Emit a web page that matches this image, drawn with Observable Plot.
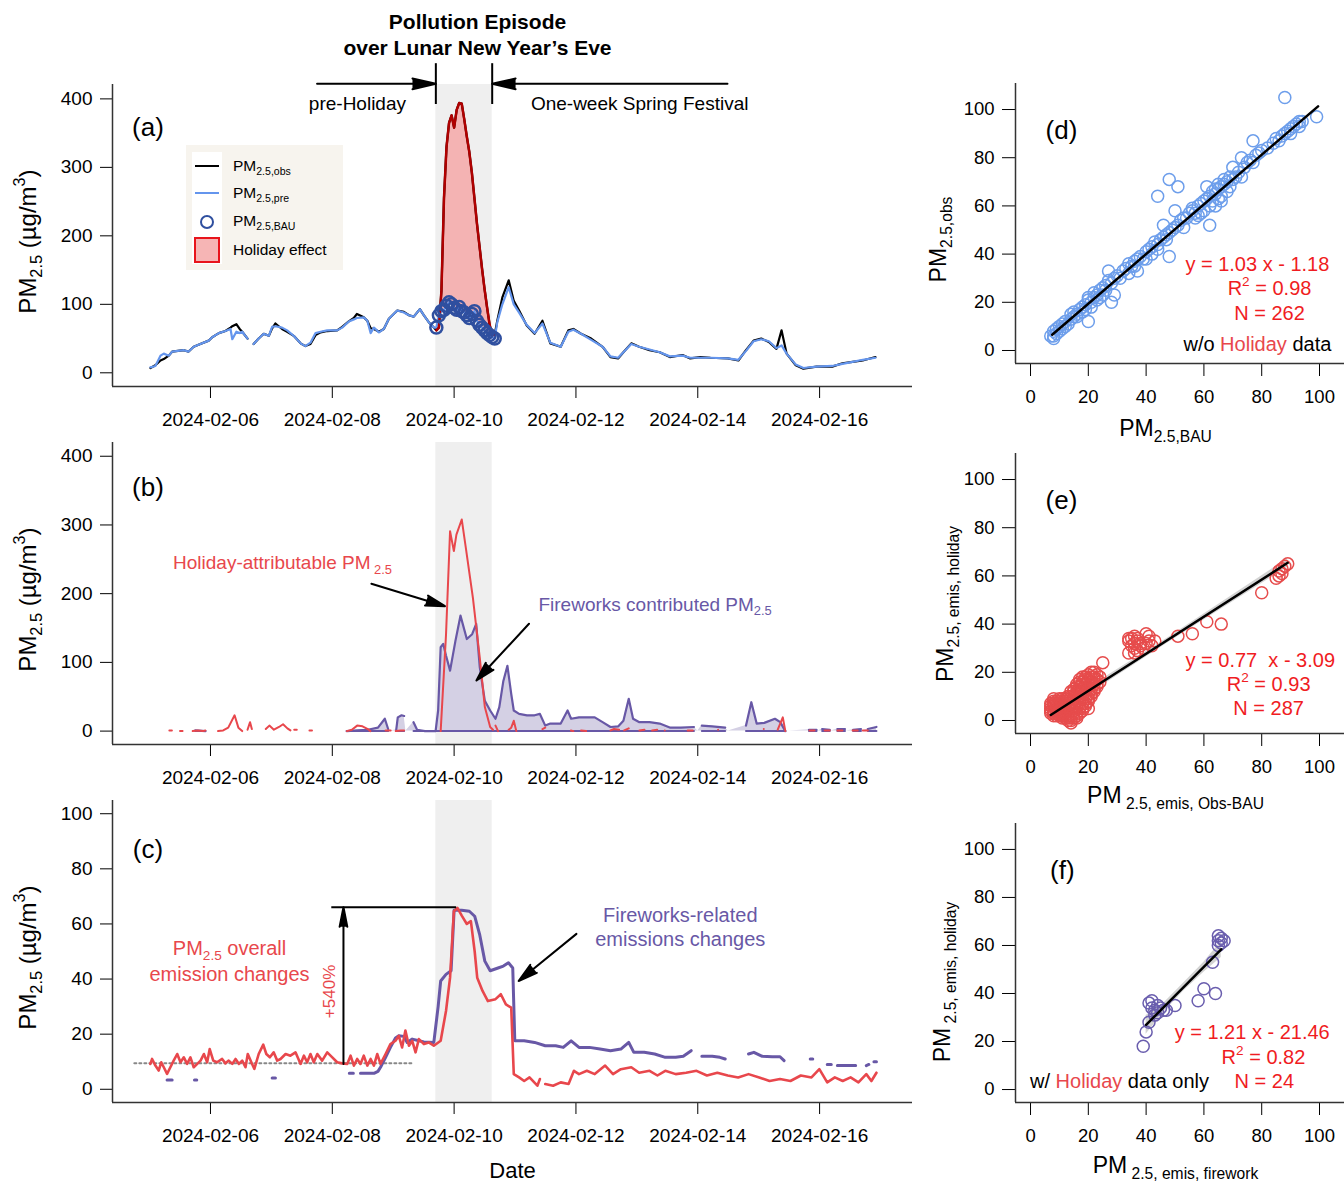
<!DOCTYPE html>
<html><head><meta charset="utf-8">
<script src="https://cdn.jsdelivr.net/npm/d3@7"></script>
<script src="https://cdn.jsdelivr.net/npm/@observablehq/plot@0.6"></script>
<style>
body{margin:0;background:#fff;}
#root{position:relative;width:1344px;height:1182px;overflow:hidden;font-family:"Liberation Sans",Arial,sans-serif;background:#fff;}
.lg sub{font-size:68%;vertical-align:-0.35em;line-height:0;}
</style></head><body><div id="root"></div>
<script>
// ================= DATA =================
// time axis: hours after 2024-02-05 00:00 (UTC)
const xTickDates = ["2024-02-06","2024-02-08","2024-02-10","2024-02-12","2024-02-14","2024-02-16"];
const holidaySpan = [112.8, 135.0];

// panel (a): observed / predicted PM2.5 outside the holiday window
const aHours = [0.35,2.3,4.3,5.6,7.6,8.9,13.5,15.4,17.4,20, 23.3,24.7,27.3,29.9,31.9,32.6,34.2,35.5,36.5,38.6, 39.6,41,43,45,47,48.3,49.6,52.2,54.2,56.8,
  59.5,61.4,63.4,65.4,67.4,70,73.9,75.9,78.5,80.5, 81.7,84.4,85.8,87.1,88.4,90.4,92.3,94.3,97.6,100.2, 102.2,104.1,106.5,108.1,110,112,
  137,139,141.5,143.5,145.6,148.6,151.7,154.8,157.9,162, 165,167,170,174,178.5,181.6,184.6,186.7,189.8,192.9, 197,201,205,210,213,217,221,227.8,232,235, 238,241,244,247,249,251,254.6,257.6,262.8,269, 273,277,281,286];
const aObs = [7,11,18,20,25,31,33,31,38,42, 47,52,58,61,66,68,71,64,60,50, null,42,50,57,54,65,72,64,60,54,
  43,39,42,55,59,61,62,67,75,80, 86,81,76,65,64,60,64,79,91,89, 84,82,93,84,74,66,
  76,110,135,105,91,69,57,76,43,38, 62,64,57,50,38,23,21,30,43,38, 33,30,23,26,21,23,22,21,18,33, 47,50,45,35,62,28,11,6,9,9, 14,16,18,23];
const aPre = [8,10,25,28,25,31,33,31,38,42, 47,52,58,61,64,49,60,58,60,50, null,42,50,57,54,67,68,66,62,54,
  43,39,44,58,60,62,62,66,75,78, 80,81,76,58,66,59,64,79,91,88, 84,82,93,84,74,66,
  74,100,125,100,88,70,58,72,44,38, 60,63,57,48,38,24,22,30,42,38, 34,30,24,25,22,22,22,21,19,32, 46,49,46,36,40,28,12,7,9,10, 13,16,19,22];
// holiday window (hourly)
const holHours = [113,114,115,116,117,118,119,120,121,122,123,124,125,126,127,128,129,130,131,132,133,134,135,136];
const holObs = [62,66,120,255,330,365,376,358,384,394,393,370,345,322,292,255,218,185,152,122,95,70,55,56];
const holBAU = [66,84,90,92,98,103,100,95,92,96,90,88,84,80,86,90,76,70,66,62,58,55,52,50];

// panel (b): [hour, value] (null = missing)
const bHoliday = [[7.8,1],[8.8,1],[9.3,null],[12,0],[13,0],[13.5,null],[17,0],[19,1],[21,0],[22,1],[22.5,null],[27,0],[29,1],[31,5],[33.5,23],[35,5],[36.5,0],[37.5,null],[38.6,2],[39.6,13],[40.3,3],[41,null],[45.8,3],[47.2,8],[49,2],[51,6],[52.6,10],[54.3,4],[55.5,1],[56,null],[57,2],[58,2],[58.5,null],[63,1],[64,1],[64.5,null],[77.7,0],[79.7,2],[81.8,8],[83.9,7],[86,3],[87,0],[87.5,null],[93,1],[95,1],[95.5,null],[97,0],[99,1],[100.3,1],[101,null],[114.7,0],[116.8,140],[118.4,291],[119.9,262],[120.9,286],[123,308],[124.6,267],[127.4,194],[130.1,107],[132.1,35],[134.2,6],[135.3,2],[135.8,null],[136.3,8],[137.3,0],[137.8,null],[141.5,2],[142.5,5],[143.5,15],[144.5,0],[145,null],[154.8,3],[155.9,5],[156.5,null],[166,1],[167,0],[167.5,null],[170,1],[172,0],[172.5,null],[181.6,1],[183,3],[185,2],[186,null],[187,1],[188.8,4],[189.5,null],[193,1],[195,2],[196,null],[198,1],[200,2],[201,null],[203,1],[204,null],[212,1],[214,1],[215,null],[224,2],[225,null],[242,3],[243,null],[247.5,2],[249.5,20],[250.5,0],[251,null],[260,1],[262,1],[262.5,null],[266,1],[268,1],[268.5,null],[271,1],[273,1],[273.5,null],[277,1],[279,1],[279.5,null],[281,1],[283,1],[283.5,null]];
const bFireworks = [[18,1],[22,0],[22.5,null],[77.7,0],[81.8,1],[86,2],[90,5],[92.7,18],[94,3],[95,null],[97.2,2],[97.8,20],[99.3,23],[100.3,22],[101,null],[104,13],[105.4,2],[108.5,0],[112.7,0],[113.7,30],[114.7,122],[115.7,127],[116.8,110],[118.4,88],[120.5,131],[122.5,168],[125,134],[127.1,141],[128.7,156],[130.1,93],[132.1,44],[134.2,30],[136.3,18],[137.8,35],[139.4,73],[141,95],[142.5,54],[143.5,30],[145.6,25],[148.7,23],[151.7,23],[153.8,25],[155.9,8],[157.9,11],[162,11],[164.7,30],[166.1,18],[169.2,20],[172.3,20],[175.4,20],[178.5,13],[181.6,6],[184.7,7],[186.7,15],[188.8,47],[190.5,18],[193,13],[197,13],[201,11],[205.2,5],[209.3,5],[214.5,6],[216,null],[217.6,8],[221.7,7],[226.8,5],[228,null],[235,8],[237.1,42],[239.2,11],[242.2,12],[246.4,18],[248.5,13],[250.5,0],[252,null],[259.8,2],[262.8,2],[263.5,null],[265,3],[268,2],[268.5,null],[271,3],[274,3],[274.5,null],[277.2,2],[280.3,3],[281,null],[283,3],[286.4,6]];

// panel (c): [hour, value]
const cOverall = [[0.3,9.2],[1,11],[2.3,8.6],[3.6,6.8],[4.6,9.8],[5.6,8],[6.9,5.6],[8.2,8],[9.5,10.4],[10.9,12.8],[12.2,9.8],[13.5,11.6],[14.8,9.2],[16.1,11.6],[17.4,8],[18.8,9.2],[20.1,10.4],[21.4,12.8],[22.7,9.8],[23.7,14.6],[25.1,10.4],[26.6,9.8],[28.6,11],[29.9,9.4],[31.2,10.4],[32.6,9.2],[33.9,11],[35.2,9.2],[36.5,10.4],[37.8,8],[38.7,12.8],[40.4,9.2],[41.3,7.4],[43,12.8],[44.8,16.2],[46,12.8],[47.4,11.6],[48.9,13.4],[50.3,10.4],[51.6,11],[53.6,12.8],[55.5,12.2],[57.5,13.4],[59.5,9.2],[60.8,12.2],[62.1,9.8],[63.4,12.8],[64.7,9.8],[66.1,12.8],[68,10.4],[70,13.4],[72,11.6],[73.9,9.8],[75.9,9.4],[77.9,9.2],[79.2,12.2],[80.5,8.6],[81.8,11],[83.1,9.2],[84.4,12.2],[85.8,8.6],[87.1,11],[88.4,8.6],[89.7,12.8],[91,9.2],[93,12.8],[94.9,16.4],[96.9,17.6],[98.2,19.4],[99.5,15.2],[100.8,21.3],[102.2,15.8],[103.5,17.6],[104.8,13.4],[106.1,18.2],[108.1,16.4],[110,17],[112,15.8],
  [114.7,17.6],[116.8,28.4],[118.4,40.5],[119.9,64.6],[121.3,65.8],[123,63],[125,60],[126.6,61],[128.1,50],[129.1,40.5],[131.2,35.7],[133.3,32],[136.3,32.7],[138.4,34.5],[140.4,30.8],[142.5,29.6],[143.5,5.5],[145.6,4.3],[147.6,3],[149.7,4.3],[152.8,1.3],[153.8,3.7],[154.8,null],[155.9,1.9],[159,1.3],[162,2.5],[165.1,1.9],[167.2,6.7],[169.2,5.5],[172.3,6.7],[175.4,5.5],[179.5,8.6],[182.6,5.5],[185.7,7.3],[189.8,8],[192.9,6],[197,6.7],[200.1,5],[203.2,6.7],[207.3,5.5],[211.4,6],[215.5,6.7],[219.6,5],[223.7,6],[227.8,5],[231.9,4.3],[236,5.5],[240.2,4.3],[244.3,3],[248.4,3.7],[252.5,3],[256.6,5],[260.8,4.3],[263.9,7.3],[267,2.5],[270,4.3],[273.1,3],[276.2,4.3],[279.3,2.5],[282.4,5.5],[284.4,3],[286.4,6]];
const cFireworks = [[6.9,3.4],[8.9,3.4],[9.5,null],[17.7,3.4],[18.6,3.4],[19.2,null],[48.3,4.1],[49.6,4.1],[50.5,null],[78.7,5.8],[80.3,5.8],[81,null],[83.1,5.8],[88.4,5.8],[90,6.5],[91,8],[93,11.6],[94.9,15.2],[96.9,18.6],[98.2,19.4],[100.2,19.2],[101.5,17],[103.5,18.2],[106.1,17.6],[108.1,17.2],[112,17],[113.7,30],[114.7,39.3],[116.8,41.7],[118.8,43],[120,65],[123,65],[126,64.6],[128.1,62.8],[130.1,56],[132.1,46.5],[134.2,43],[137.3,44],[139.4,44.7],[141.4,45.9],[143.1,44],[143.9,17.6],[147.6,17.6],[151.7,17],[155.9,15.8],[160,15.8],[163,15.2],[166.1,17.6],[169.2,15.2],[173.3,15.2],[177.5,14.6],[181.6,14],[185.7,14.6],[188.8,17],[190.8,13.4],[194.9,13.4],[199,12.8],[203.2,11.6],[207.3,11.6],[210.3,12],[213.4,14],[215,null],[217.6,12],[221.7,12],[224.7,11.6],[226.8,11],[228,null],[236,12.8],[238.1,13.4],[241.2,12],[245.3,11.8],[248.4,11.8],[250,10.4],[251,null],[260.3,11],[261.3,11],[262,null],[267,9],[268.6,9],[269.5,null],[271,8.6],[278.2,8.6],[279,null],[282.4,8.6],[283.4,9],[284,null],[285.4,10],[286.4,10]];
const cBaseline = [[-6,9.4],[104,9.4]];

// scatter panels: [x, y]
const dPoints = [[8,6],[8,8],[9,7],[9,9],[10,8],[10,10],[11,9],[11,11],[12,12],[13,11],[14,13],[15,14],[15,16],[16,15],[17,17],[18,18],[19,19],[19,17],[20,21],[20,22],[20,12],[21,20],[22,22],[22,24],[23,23],[24,25],[24,22],[25,26],[26,27],[26,25],[27,33],[27,29],[28,28],[28,20],[29,23],[29,30],[30,31],[31,30],[32,33],[33,34],[34,32],[34,36],[35,35],[36,37],[37,38],[37,33],[38,39],[39,38],[40,41],[41,42],[42,43],[42,40],[43,45],[44,44],[44,64],[45,46],[46,47],[46,52],[47,48],[48,71],[48,39],[48,49],[49,50],[50,58],[50,51],[51,68],[51,52],[52,54],[53,55],[54,55],[55,57],[56,58],[57,57],[58,60],[58,56],[59,61],[60,62],[60,58],[61,63],[61,68],[62,52],[62,64],[63,62],[63,66],[64,65],[64,60],[65,67],[65,63],[66,68],[66,64],[67,69],[67,71],[68,70],[68,66],[69,72],[70,76],[70,71],[72,74],[73,80],[73,72],[74,76],[75,78],[76,79],[77,87],[77,78],[78,81],[79,82],[80,83],[82,84],[84,86],[85,88],[86,87],[87,89],[88,105],[88,90],[89,91],[90,92],[90,90],[91,93],[92,94],[93,93],[93,95],[94,95],[99,97],[7,6],[8,5],[12,10],[14,15],[16,14],[18,16],[21,18],[23,21],[25,23],[36,35],[40,38],[44,42],[47,46],[53,51],[56,59],[57,55],[59,57],[62,60],[64,67],[65,69],[66,62],[69,68],[71,72]];
const ePoints = [[7,5],[7,7],[8,3],[8,6],[8,9],[9,4],[9,7],[9,2],[10,5],[10,8],[10,3],[11,6],[11,9],[11,4],[12,2],[12,5],[12,8],[13,1],[13,3],[13,6],[13,10],[14,0],[14,2],[14,5],[14,8],[14,12],[15,1],[15,4],[15,7],[15,10],[15,13],[16,3],[16,6],[16,9],[16,12],[16,15],[17,5],[17,8],[17,11],[17,14],[17,17],[18,4],[18,7],[18,10],[18,13],[18,16],[19,6],[19,9],[19,12],[19,15],[19,18],[20,8],[20,11],[20,14],[20,17],[21,10],[21,13],[21,16],[21,20],[22,12],[22,15],[22,18],[23,14],[23,17],[25,24],[10,6],[12,7],[9,5],[11,2],[16,1],[20,5],[8,7],[7,4],
  [8,4],[8,2],[9,8],[9,3],[10,2],[10,7],[10,9],[11,3],[11,7],[12,3],[12,6],[12,9],[13,2],[13,5],[13,8],[14,1],[14,4],[14,7],[14,10],[15,3],[15,6],[15,9],[15,12],[16,5],[16,8],[16,11],[16,14],[17,7],[17,10],[17,13],[17,16],[18,9],[18,12],[18,15],[18,18],[19,11],[19,14],[19,17],[20,13],[20,16],[20,19],[21,15],[21,18],[22,17],[22,20],[23,19],[24,18],[12,1],[13,0],[14,-1],[11,1],[16,2],[17,3],[18,5],[19,7],[20,9],[21,11],[22,13],[23,15],[24,16],[7,3],[7,6],[8,8],[9,6],[10,4],
  [34,28],[34,33],[35,34],[35,31],[36,30],[36,32],[36,35],[37,29],[37,33],[37,34],[38,31],[38,32],[39,30],[40,32],[40,36],[41,35],[41,33],[42,31],[43,33],[34,34],[36,28],
  [51,35],[56,36],[61,41],[66,40],[80,53],[85,59],[86,60],[86,62],[87,61],[87,63],[88,64],[89,65]];
const fPoints = [[39,18],[40,24],[41,28],[41,36],[42,37],[42,34],[43,31],[43,33],[44,35],[44,32],[45,34],[46,33],[47,33],[50,35],[58,37],[60,42],[63,53],[64,40],[65,60],[65,62],[65,64],[66,61],[66,63],[67,62]];
// regression fits: [slope, intercept], x-range
const dFit = [1.03, -1.18], dFitRange = [7.5, 99.5];
const eFit = [0.77, -3.09], eFitRange = [7, 89];
const fFit = [1.21, -21.46], fFitRange = [40, 66];
// confidence bands: [x, lower, upper]
const eBand = [[7,0.6,3.8],[48,32.6,34.6],[89,63.6,67.2]];
const fBand = [[40,23.0,30.8],[46,32.0,35.8],[53,41.0,44.4],[60,48.8,53.0],[66,55.0,61.8]];
// legend
const legendLabels = ["PM<sub>2.5,obs</sub>","PM<sub>2.5,pre</sub>","PM<sub>2.5,BAU</sub>","Holiday effect"];

// ================= HELPERS =================
const FONT = '"Liberation Sans", Arial, Helvetica, sans-serif';
const RED = "#e8474c", PURPLE = "#6858a6", EQRED = "#f01c22";
const T0 = Date.UTC(2024, 1, 5);
const hd = h => new Date(T0 + h * 3600000);
const root = document.getElementById("root");
const xDomain = [hd(-14.6), hd(300.6)];
const xTicks = xTickDates.map(s => new Date(s + "T00:00:00Z"));
const series = arr => arr.map(([h, v]) => ({t: hd(h), v}));

function place(el, left, top) {
  el.style.position = "absolute"; el.style.left = left + "px"; el.style.top = top + "px";
  root.appendChild(el);
}
// turn _{..} (subscript), ^{..} (superscript), §..§ (red word) into tspans
function richify(svg) {
  const ns = "http://www.w3.org/2000/svg";
  svg.querySelectorAll("text").forEach(t => {
    const s = t.textContent;
    if (!/[_^]\{|§/.test(s)) return;
    while (t.firstChild) t.removeChild(t.firstChild);
    let shift = 0;
    const add = (txt, kind) => {
      if (!txt) return;
      const ts = document.createElementNS(ns, "tspan");
      ts.textContent = txt;
      let k = 1, target = 0;
      if (kind === "sub") { k = 0.68; target = 0.26; }
      if (kind === "sup") { k = 0.68; target = -0.45; }
      if (k !== 1) ts.setAttribute("font-size", (k * 100) + "%");
      if (target !== shift) ts.setAttribute("dy", ((target - shift) / k).toFixed(3) + "em");
      shift = target;
      if (kind === "red") ts.setAttribute("fill", RED);
      t.appendChild(ts);
    };
    const re = /([_^])\{([^}]*)\}|§([^§]*)§/g;
    let last = 0, m;
    while ((m = re.exec(s))) {
      add(s.slice(last, m.index), "n");
      if (m[1]) add(m[2], m[1] === "_" ? "sub" : "sup");
      else add(m[3], "red");
      last = re.lastIndex;
    }
    add(s.slice(last), "n");
  });
  return svg;
}
const note = (x, y, text, o = {}) => Plot.text([{x, y, text}], {x: "x", y: "y", text: "text", textAnchor: "middle", lineAnchor: "middle", ...o});
const frameText = (text, o) => Plot.text([text], {text: d => d, textAnchor: "middle", lineAnchor: "middle", ...o});
const arrow = (x1, y1, x2, y2, o = {}) => Plot.arrow([{x1, y1, x2, y2}], {x1: "x1", y1: "y1", x2: "x2", y2: "y2", stroke: "#000", fill: "#000", strokeWidth: 2, headLength: 15, headAngle: 30, ...o});

function timePlot(o, marks) {
  return richify(Plot.plot({
    width: 930, height: o.height, marginLeft: 112, marginRight: 18, marginTop: o.mt, marginBottom: o.mb,
    style: {fontFamily: FONT, fontSize: "19px", color: "#000", background: "transparent", overflow: "visible"},
    x: {type: "utc", domain: xDomain, ticks: xTicks, tickFormat: d3.utcFormat("%Y-%m-%d"), tickSize: 12, tickPadding: 14, label: null},
    y: {domain: o.yDomain, ticks: o.yTicks, tickSize: 12, tickPadding: 8, label: null},
    marks: [
      Plot.rect([holidaySpan], {x1: d => hd(d[0]), x2: d => hd(d[1]), fill: "#efefef"}),
      ...marks,
      Plot.ruleX([xDomain[0]], {stroke: "#333", strokeWidth: 1.5}),
      Plot.ruleY([o.yDomain[0]], {stroke: "#333", strokeWidth: 1.5}),
      frameText(o.label, {frameAnchor: "top-left", dx: 35.5, dy: o.labelDy, fontSize: 26}),
      frameText("PM_{2.5} (µg/m^{3})", {frameAnchor: "left", dx: -84, dy: 6, rotate: -90, fontSize: 24}),
      ...(o.extra || [])
    ]
  }));
}

// ================= PANEL (a) =================
const holData = holHours.map((h, i) => ({t: hd(h), obs: holObs[i], bau: holBAU[i]}));
const obsLine = [...aHours.map((h, i) => ({t: hd(h), v: aObs[i]})), ...holHours.map((h, i) => ({t: hd(h), v: holObs[i]}))].sort((a, b) => a.t - b.t);
const preLine = [...aHours.map((h, i) => ({t: hd(h), v: aPre[i]})), ...holHours.map((h, i) => ({t: hd(h), v: holBAU[i]}))].sort((a, b) => a.t - b.t);

place(timePlot({height: 440, mt: 84, mb: 54, yDomain: [-20, 421], yTicks: [0, 100, 200, 300, 400], label: "(a)", labelDy: 43}, [
  Plot.areaY(holData, {x: "t", y1: "bau", y2: "obs", fill: "#f4b3b3"}),
  Plot.line(obsLine, {x: "t", y: "v", stroke: "#000", strokeWidth: 2.2}),
  Plot.line(preLine, {x: "t", y: "v", stroke: "#6495ed", strokeWidth: 2.2}),
  Plot.line(holData, {x: "t", y: "obs", stroke: "#b00000", strokeWidth: 2.5}),
  Plot.dot(holData, {x: "t", y: "bau", r: 6, stroke: "#2f4f9f", strokeWidth: 2.5}),
  note(hd(129.2), 512, "Pollution Episode", {fontWeight: "bold", fontSize: 21}),
  note(hd(129.2), 474.6, "over Lunar New Year’s Eve", {fontWeight: "bold", fontSize: 21}),
  arrow(hd(66), 422, hd(holidaySpan[0]), 422, {headLength: 18, headAngle: 26}),
  arrow(hd(227.7), 422, hd(holidaySpan[1]), 422, {headLength: 18, headAngle: 26}),
  Plot.ruleX(holidaySpan.map(hd), {x: d => d, y1: 451.4, y2: 391.8, stroke: "#000", strokeWidth: 2}),
  note(hd(81.9), 393, "pre-Holiday", {fontSize: 19}),
  note(hd(193.1), 393, "One-week Spring Festival", {fontSize: 19})
]), 0, 0);

// legend (a)
const lg = document.createElement("div");
lg.className = "lg";
lg.style.cssText = "position:absolute;left:186px;top:145px;width:157px;height:125px;background:#f7f4ee;font-size:15.5px;color:#000;";
const sw = [
  '<div style="position:absolute;left:9px;top:20px;width:24px;height:0;border-top:2.5px solid #000"></div>',
  '<div style="position:absolute;left:9px;top:47px;width:24px;height:0;border-top:2.5px solid #6495ed"></div>',
  '<div style="position:absolute;left:14px;top:70px;width:10px;height:10px;border:2.5px solid #2f4f9f;border-radius:50%"></div>',
  '<div style="position:absolute;left:8px;top:92px;width:22px;height:22px;background:#f6b5b5;border:2px solid #e8141c"></div>'
];
const ys = [21, 48, 76, 105];
lg.innerHTML = '<div style="position:absolute;left:6px;top:7px;width:30px;height:112px;background:#fff"></div>' + sw.join("") +
  legendLabels.map((s, i) => `<div style="position:absolute;left:47px;top:${ys[i] - 10}px;line-height:20px;white-space:nowrap">${s}</div>`).join("");
root.appendChild(lg);

// ================= PANEL (b) =================
const bFw = series(bFireworks), bHo = series(bHoliday);
place(timePlot({height: 360, mt: 2, mb: 56, yDomain: [-19.5, 420], yTicks: [0, 100, 200, 300, 400], label: "(b)", labelDy: 44.7}, [
  Plot.areaY(bFw, {x: "t", y: "v", fill: "#d4d0e4"}),
  Plot.line(bFw.map(d => ({t: d.t, v: d.v == null ? null : 0})), {x: "t", y: "v", stroke: PURPLE, strokeWidth: 2}),
  Plot.line(bFw, {x: "t", y: "v", stroke: PURPLE, strokeWidth: 2.2}),
  Plot.line(bHo, {x: "t", y: "v", stroke: RED, strokeWidth: 2}),
  note(hd(52.4), 245, "Holiday-attributable PM_{ 2.5}", {fill: RED, fontSize: 19}),
  arrow(hd(87.4), 214.4, hd(116.4), 181.8),
  note(hd(199.2), 184.3, "Fireworks contributed PM_{2.5}", {fill: PURPLE, fontSize: 19}),
  arrow(hd(149.5), 156.2, hd(128.8), 73.7)
]), 0, 440);

// ================= PANEL (c) =================
place(timePlot({height: 382, mt: 0, mb: 80, yDomain: [-4.8, 104.8], yTicks: [0, 20, 40, 60, 80, 100], label: "(c)", labelDy: 49,
  extra: [frameText("Date", {frameAnchor: "bottom", dy: 68, fontSize: 22})]}, [
  Plot.line(series(cBaseline), {x: "t", y: "v", stroke: "#888", strokeWidth: 2, strokeDasharray: "2,3"}),
  Plot.line(series(cFireworks), {x: "t", y: "v", stroke: PURPLE, strokeWidth: 3}),
  Plot.line(series(cOverall), {x: "t", y: "v", stroke: RED, strokeWidth: 2.6}),
  Plot.ruleY([66.1], {x1: hd(71.8), x2: hd(121), stroke: "#000", strokeWidth: 2}),
  arrow(hd(76.4), 9.2, hd(76.4), 66.1, {headLength: 15, headAngle: 22}),
  note(hd(70.9), 35.5, "+540%", {fill: RED, fontSize: 17, rotate: -90}),
  note(hd(31.5), 51.2, "PM_{2.5} overall", {fill: RED, fontSize: 20}),
  note(hd(31.5), 41.6, "emission changes", {fill: RED, fontSize: 20}),
  note(hd(209.1), 62.9, "Fireworks-related", {fill: PURPLE, fontSize: 20}),
  note(hd(209.1), 54.4, "emissions changes", {fill: PURPLE, fontSize: 20}),
  arrow(hd(168.2), 56.4, hd(145.4), 39.3)
]), 0, 800);

// ================= SCATTER PANELS =================
const sTicks = [0, 20, 40, 60, 80, 100];
const fitLine = (fit, range) => range.map(x => ({x, y: fit[0] * x + fit[1]}));
function scatterPlot(o) {
  return richify(Plot.plot({
    width: 414, height: o.height, marginLeft: 85, marginRight: 0, marginTop: o.mt, marginBottom: o.mb,
    style: {fontFamily: FONT, fontSize: "18.5px", color: "#000", background: "transparent", overflow: "visible"},
    x: {domain: [-5.2, 108.65], ticks: sTicks, tickSize: 13, tickPadding: 13, label: null},
    y: {domain: [-5.4, 110.8], ticks: sTicks, tickSize: 13, tickPadding: 8, label: null},
    marks: [
      ...(o.band ? [Plot.areaY(o.band, {x: d => d[0], y1: d => d[1], y2: d => d[2], fill: "#c4c4c4", fillOpacity: 0.75})] : []),
      Plot.dot(o.points, {x: d => d[0], y: d => d[1], r: 6, stroke: o.color, strokeWidth: 1.5}),
      Plot.line(fitLine(o.fit, o.range), {x: "x", y: "y", stroke: "#000", strokeWidth: 2.5}),
      Plot.ruleX([-5.2], {stroke: "#333", strokeWidth: 1.5}),
      Plot.ruleY([-5.4], {stroke: "#333", strokeWidth: 1.5}),
      note(o.lab[0], o.lab[1], o.label, {fontSize: 26}),
      note(o.eq[0], o.eq[1], o.eqText, {fill: EQRED, fontSize: 20}),
      note(o.r2[0], o.r2[1], o.r2Text, {fill: EQRED, fontSize: 20}),
      note(o.n[0], o.n[1], o.nText, {fill: EQRED, fontSize: 20}),
      ...(o.tag ? [note(o.tag[0], o.tag[1], o.tagText, {fontSize: 20})] : []),
      frameText(o.ytitle, {frameAnchor: "left", dx: o.yt[0], dy: o.yt[1], rotate: -90, fontSize: 23}),
      frameText(o.xtitle, {frameAnchor: "bottom", dx: o.xt[0], dy: o.xt[1], fontSize: 23})
    ]
  }));
}
place(scatterPlot({height: 440, mt: 83, mb: 77, points: dPoints, color: "#6d9eeb", fit: dFit, range: dFitRange,
  label: "(d)", lab: [10.7, 91.3],
  eqText: "y = 1.03 x - 1.18", eq: [78.5, 35.7], r2Text: "R^{2} = 0.98", r2: [82.7, 25.7], nText: "N = 262", n: [82.7, 15.2],
  tagText: "w/o §Holiday§ data", tag: [78.5, 2.4],
  ytitle: "PM_{2.5,obs}", yt: [-77, 16], xtitle: "PM_{2.5,BAU}", xt: [-14.5, 65]}), 930, 0);
place(scatterPlot({height: 370, mt: 13, mb: 77, points: ePoints, color: "#e64c4c", fit: eFit, range: eFitRange, band: eBand,
  label: "(e)", lab: [10.7, 91.3],
  eqText: "y = 0.77  x - 3.09", eq: [79.5, 24.9], r2Text: "R^{2} = 0.93", r2: [82.4, 14.8], nText: "N = 287", n: [82.4, 4.9],
  ytitle: "PM_{2.5, emis, holiday}", yt: [-70, 10.5], xtitle: "PM_{ 2.5, emis, Obs-BAU}", xt: [-4.5, 62]}), 930, 440);
place(scatterPlot({height: 372, mt: 13, mb: 80, points: fPoints, color: "#6a5eae", fit: fFit, range: fFitRange, band: fBand,
  label: "(f)", lab: [11, 91],
  eqText: "y = 1.21 x - 21.46", eq: [76.7, 23.7], r2Text: "R^{2} = 0.82", r2: [80.6, 13.5], nText: "N = 24", n: [80.9, 3.4],
  tagText: "w/ §Holiday§ data only", tag: [30.8, 3.4],
  ytitle: "PM_{ 2.5, emis, holiday}", yt: [-73, 19], xtitle: "PM_{ 2.5, emis, firework}", xt: [-4.5, 63]}), 930, 810);
</script></body></html>
